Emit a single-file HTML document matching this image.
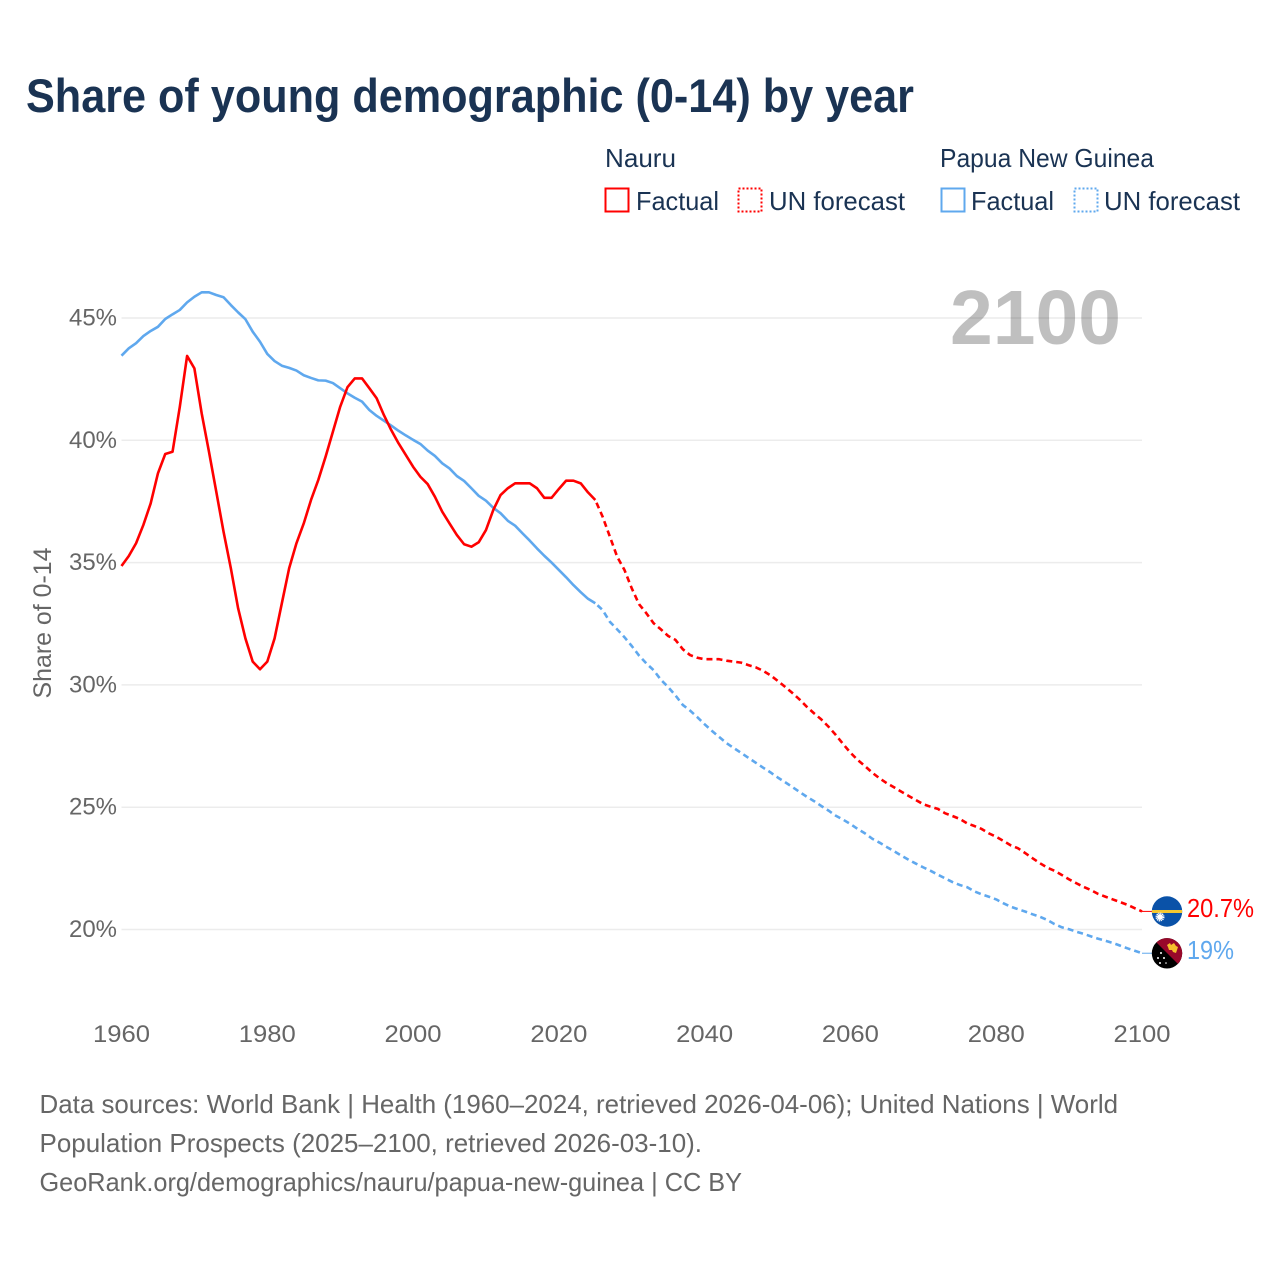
<!DOCTYPE html>
<html lang="en">
<head>
<meta charset="utf-8">
<title>Share of young demographic (0-14) by year</title>
<style>
  html, body { margin: 0; padding: 0; background: #fff; }
  svg { display: block; }
  text { font-family: "Liberation Sans", sans-serif; }
</style>
</head>
<body>
<svg id="chart" xmlns="http://www.w3.org/2000/svg" width="1280" height="1280" viewBox="0 0 1280 1280">
  <rect x="0" y="0" width="1280" height="1280" fill="#fff"/>
  <text x="26" y="112" font-size="47" font-weight="700" fill="#1a3353" textLength="888" lengthAdjust="spacingAndGlyphs">Share of young demographic (0-14) by year</text>

  <g font-size="26" fill="#1a3353">
    <text x="605" y="167" textLength="71" lengthAdjust="spacingAndGlyphs">Nauru</text>
    <text x="940" y="167" textLength="214" lengthAdjust="spacingAndGlyphs">Papua New Guinea</text>
    <rect x="605.5" y="188.5" width="23" height="23" fill="none" stroke="#ff0000" stroke-width="2"/>
    <text x="636" y="210" textLength="83" lengthAdjust="spacingAndGlyphs">Factual</text>
    <rect x="738.5" y="188.5" width="23" height="23" fill="none" stroke="#ff0000" stroke-width="2" stroke-dasharray="2 2"/>
    <text x="769" y="210" textLength="136" lengthAdjust="spacingAndGlyphs">UN forecast</text>
    <rect x="941.5" y="188.5" width="23" height="23" fill="none" stroke="#5fa8ee" stroke-width="2"/>
    <text x="971" y="210" textLength="83" lengthAdjust="spacingAndGlyphs">Factual</text>
    <rect x="1074.5" y="188.5" width="23" height="23" fill="none" stroke="#5fa8ee" stroke-width="2" stroke-dasharray="2 2"/>
    <text x="1104" y="210" textLength="136" lengthAdjust="spacingAndGlyphs">UN forecast</text>
  </g>

  <g id="grid"></g>
  <g id="yAxis"></g>
  <g id="xAxis"></g>
  <text transform="translate(51,623) rotate(-90)" text-anchor="middle" font-size="25" fill="#666" textLength="151" lengthAdjust="spacingAndGlyphs">Share of 0-14</text>
  <text x="1121" y="344" text-anchor="end" font-size="77" font-weight="700" fill="#000" fill-opacity="0.25" textLength="171" lengthAdjust="spacingAndGlyphs">2100</text>
  <g id="series"></g>

  <defs>
    <clipPath id="nauruClip"><circle cx="1167" cy="911.5" r="15.2"/></clipPath>
    <clipPath id="pngClip"><circle cx="1167" cy="953.3" r="15.2"/></clipPath>
  </defs>
  <g clip-path="url(#nauruClip)">
    <rect x="1150" y="895" width="34" height="34" fill="#0a52a8"/>
    <rect x="1150" y="910" width="34" height="3" fill="#f5c830"/>
    <circle cx="1160" cy="917" r="2.8" fill="#fff"/>
    <circle cx="1160" cy="917" r="3.6" fill="none" stroke="#fff" stroke-width="1.8" stroke-dasharray="1.2 0.7"/>
  </g>
  <g clip-path="url(#pngClip)">
    <rect x="1150" y="936" width="34" height="36" fill="#000"/>
    <polygon points="1152,938 1184,938 1184,970" fill="#98082a"/>
    <path d="M1167 945l3-2 1 2 3-2 2 3 2 1-1 3-1 3-3-1-1-2-3 0-1-3z" fill="#f6c02c"/>
    <circle cx="1161" cy="953" r="1" fill="#fff"/>
    <circle cx="1158" cy="958" r="1" fill="#fff"/>
    <circle cx="1164" cy="958" r="1" fill="#fff"/>
    <circle cx="1160" cy="963" r="1" fill="#fff"/>
    <circle cx="1166" cy="963" r="0.8" fill="#fff"/>
  </g>
  <text id="labelNauru" x="1187" y="917" font-size="26" fill="#ff0000" textLength="67" lengthAdjust="spacingAndGlyphs">20.7%</text>
  <text id="labelPng" x="1187" y="959" font-size="26" fill="#5fa8ee" textLength="47" lengthAdjust="spacingAndGlyphs">19%</text>

  <g font-size="26" fill="#666">
    <text x="39.5" y="1113" textLength="1078.5" lengthAdjust="spacingAndGlyphs">Data sources: World Bank | Health (1960–2024, retrieved 2026-04-06); United Nations | World</text>
    <text x="39.5" y="1152" textLength="662.5" lengthAdjust="spacingAndGlyphs">Population Prospects (2025–2100, retrieved 2026-03-10).</text>
    <text x="39.5" y="1191" textLength="702.5" lengthAdjust="spacingAndGlyphs">GeoRank.org/demographics/nauru/papua-new-guinea | CC BY</text>
  </g>
</svg>
<script>
const yTickValues = [20, 25, 30, 35, 40, 45];
const xTickValues = [1960, 1980, 2000, 2020, 2040, 2060, 2080, 2100];
const factualStartYear = 1960;
const forecastStartYear = 2025;
const nauruFactual = [34.86,35.27,35.79,36.54,37.42,38.65,39.44,39.53,41.37,43.45,42.94,41.1,39.53,37.9,36.26,34.77,33.13,31.9,30.95,30.64,30.95,31.9,33.34,34.77,35.79,36.6,37.56,38.38,39.33,40.35,41.37,42.17,42.53,42.53,42.13,41.72,41.03,40.42,39.88,39.4,38.92,38.51,38.21,37.69,37.08,36.6,36.13,35.75,35.65,35.83,36.33,37.15,37.76,38.04,38.24,38.24,38.24,38.04,37.65,37.65,38.01,38.35,38.35,38.24,37.87,37.56];
const nauruForecast = [37.56,36.88,36.06,35.24,34.7,33.95,33.3,32.93,32.52,32.27,32.0,31.84,31.46,31.22,31.11,31.05,31.05,31.05,30.99,30.95,30.91,30.81,30.72,30.58,30.4,30.17,29.93,29.68,29.41,29.11,28.84,28.59,28.29,27.95,27.58,27.23,26.93,26.68,26.41,26.18,25.98,25.81,25.63,25.46,25.29,25.12,25.02,24.93,24.75,24.64,24.52,24.34,24.23,24.11,23.93,23.79,23.62,23.44,23.32,23.12,22.91,22.71,22.53,22.4,22.23,22.05,21.89,21.74,21.61,21.45,21.34,21.23,21.12,21.01,20.87,20.74];
const pngFactual = [43.46,43.76,43.97,44.26,44.47,44.64,44.96,45.15,45.33,45.64,45.87,46.05,46.05,45.94,45.85,45.53,45.23,44.95,44.44,44.03,43.53,43.24,43.05,42.96,42.85,42.66,42.55,42.45,42.44,42.34,42.13,41.92,41.74,41.58,41.24,41.0,40.8,40.6,40.39,40.2,40.02,39.85,39.58,39.36,39.06,38.85,38.54,38.34,38.04,37.73,37.53,37.24,37.02,36.71,36.51,36.2,35.9,35.58,35.28,35.0,34.7,34.4,34.08,33.79,33.52,33.34];
const pngForecast = [33.34,33.06,32.58,32.27,31.95,31.59,31.2,30.88,30.6,30.21,29.91,29.57,29.18,28.95,28.68,28.39,28.12,27.87,27.62,27.42,27.22,27.02,26.82,26.62,26.43,26.22,26.03,25.83,25.63,25.43,25.25,25.05,24.86,24.65,24.49,24.31,24.11,23.93,23.71,23.55,23.37,23.2,23.02,22.85,22.69,22.54,22.4,22.24,22.09,21.94,21.82,21.73,21.56,21.44,21.34,21.23,21.07,20.93,20.83,20.73,20.62,20.52,20.39,20.22,20.09,20.01,19.91,19.82,19.72,19.62,19.54,19.45,19.34,19.23,19.13,19.03];

const NS = 'http://www.w3.org/2000/svg';
function xScale(year) { return 121.5 + (year - 1960) * (1142 - 121.5) / 140; }
function yScale(v) { return 929.5 - (v - 20) * (929.5 - 318) / 25; }
function make(tag, parent, attrs) {
  const el = document.createElementNS(NS, tag);
  for (const k in attrs) el.setAttribute(k, attrs[k]);
  parent.appendChild(el);
  return el;
}
function pathFor(values, startYear) {
  return values.map((v, i) => (i ? 'L' : 'M') + xScale(startYear + i).toFixed(2) + ' ' + yScale(v).toFixed(2)).join(' ');
}

const grid = document.getElementById('grid');
const yAxis = document.getElementById('yAxis');
const xAxis = document.getElementById('xAxis');
const series = document.getElementById('series');

yTickValues.forEach(v => {
  const line = make('line', grid, { x1: xScale(1960), x2: xScale(2100), y1: yScale(v), y2: yScale(v), stroke: '#ececec', 'stroke-width': 1.5 });
  
  
  const t = make('text', yAxis, { x: 117, y: yScale(v) + 7.5, 'text-anchor': 'end', 'font-size': 24, fill: '#666', textLength: 48, lengthAdjust: 'spacingAndGlyphs' });
  t.textContent = v + '%';
  
  
});

xTickValues.forEach(y => {
  const t = make('text', xAxis, { x: xScale(y), y: 1042, 'text-anchor': 'middle', 'font-size': 24, fill: '#666', textLength: 57, lengthAdjust: 'spacingAndGlyphs' });
  t.textContent = y;
  
  
});

const common = { fill: 'none', 'stroke-width': 2.6, 'stroke-linejoin': 'round' };

const pngSolid = make('path', series, Object.assign({ d: pathFor(pngFactual, factualStartYear), stroke: '#5fa8ee' }, common));



const pngDash = make('path', series, Object.assign({ d: pathFor(pngForecast, forecastStartYear), stroke: '#5fa8ee', 'stroke-dasharray': '6 4', 'stroke-dashoffset': 7 }, common));



const nauruSolid = make('path', series, Object.assign({ d: pathFor(nauruFactual, factualStartYear), stroke: '#ff0000' }, common));



const nauruDash = make('path', series, Object.assign({ d: pathFor(nauruForecast, forecastStartYear), stroke: '#ff0000', 'stroke-dasharray': '6 4', 'stroke-dashoffset': 7 }, common));



const nauruEnd = nauruForecast[nauruForecast.length - 1];
const pngEnd = pngForecast[pngForecast.length - 1];
const c1 = make('line', series, { x1: xScale(2100), y1: yScale(nauruEnd), x2: 1153, y2: yScale(nauruEnd), stroke: '#ff0000', 'stroke-width': 1 });


const c2 = make('line', series, { x1: xScale(2100), y1: yScale(pngEnd), x2: 1153, y2: yScale(pngEnd), stroke: '#5fa8ee', 'stroke-width': 1 });


</script>
</body>
</html>
